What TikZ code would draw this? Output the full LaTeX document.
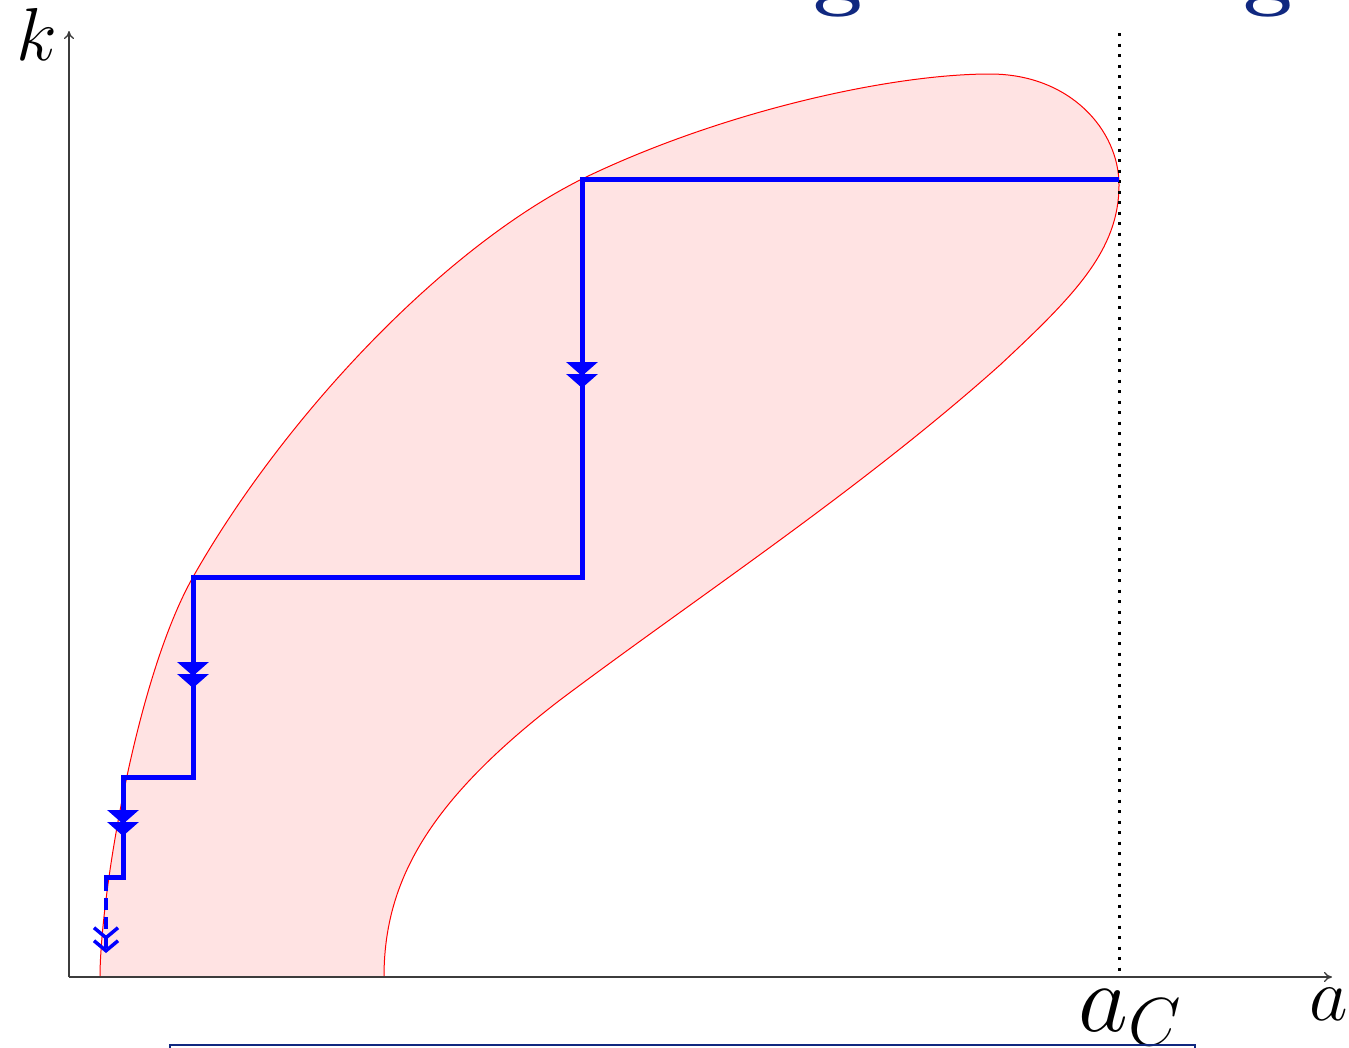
\documentclass[tikz,border=0pt]{standalone}
\usepackage{fix-cm}
\usepackage{fontspec}
\usetikzlibrary{arrows.meta}
\definecolor{navy}{RGB}{16,40,128}
\definecolor{axisgray}{RGB}{60,60,60}
\tikzset{
  axisline/.style={draw=axisgray,line width=1.3pt,-{To[length=8pt,width=10pt]}},
  region/.style={fill=red!11,draw=red,line width=1pt},
  stair/.style={draw=blue,line width=5pt,line join=miter},
  dtri/.style={-{Triangle[width=31pt,length=14pt,sep=-2pt]Triangle[width=31pt,length=14pt]}},
  dbarb/.style={-{Straight Barb[width=24pt,length=10pt,line width=3.5pt,sep=-1pt]Straight Barb[width=24pt,length=10pt,line width=3.5pt]}},
  lab/.style={inner sep=0pt,font=\fontsize{75}{75}\selectfont},
  titleg/.style={anchor=base,inner sep=0pt,text=navy,font=\fontsize{88}{88}\selectfont\bfseries},
}
\begin{document}
\begin{tikzpicture}[x=1pt,y=-1pt]
\useasboundingbox (0,0) rectangle (1349,1047);
\clip (0,0) rectangle (1349,1047);
% partial title glyphs at top
\node[titleg] (g1) at (838,-1) {g};
\node[titleg] (g2) at (1268,-1) {g};
% region
\path[region] (100,977)
  .. controls (100,900) and (135,680) .. (193,577)
  .. controls (282,420) and (440,250) .. (582,179)
  .. controls (720,112) and (890,74) .. (990,74)
  .. controls (1070,74) and (1119,130) .. (1119,185)
  .. controls (1119,250) and (1075,295) .. (1000,365)
  .. controls (860,490) and (700,595) .. (560,700)
  .. controls (430,800) and (384,880) .. (384,977)
  -- cycle;
% dotted line
\coordinate (dtop) at (1119,33);
\coordinate (dbot) at (1119,977);
\draw[black,line width=3pt,dash pattern=on 3pt off 7.5pt] (dtop) -- (dbot);
% axes
\coordinate (O) at (69,977);
\coordinate (ktip) at (69,31);
\coordinate (atip) at (1332,977);
\draw[axisline] (O) -- (ktip);
\draw[axisline] (O) -- (atip);
% staircase
\coordinate (s0) at (1119,179);
\coordinate (s1) at (582,179);
\coordinate (s2) at (582,577);
\coordinate (s3) at (193,577);
\coordinate (s4) at (193,777);
\coordinate (s5) at (123,777);
\coordinate (s6) at (123,877);
\coordinate (s7) at (106,877);
\coordinate (s8) at (106,953);
\draw[stair] (s0) -- (s1) -- (s2) -- (s3) -- (s4) -- (s5) -- (s6) -- (s7) -- ([yshift=2.5pt]s7);
\draw[blue,line width=4pt,dash pattern=on 12pt off 7pt,dbarb] ([yshift=-2pt]s7) -- (s8);
\coordinate (m1a) at (582,360);
\coordinate (m1b) at (582,388);
\coordinate (m2a) at (193,660);
\coordinate (m2b) at (193,688);
\coordinate (m3a) at (123,808);
\coordinate (m3b) at (123,836);
\draw[blue,line width=5pt,dtri] (m1a) -- (m1b);
\draw[blue,line width=5pt,dtri] (m2a) -- (m2b);
\draw[blue,line width=5pt,dtri] (m3a) -- (m3b);
% labels
\node[lab] (klab) at (37,34) {$k$};
\node[lab] (alab) at (1329,1004) {$a$};
\node[inner sep=0pt,font=\fontsize{97}{97}\selectfont,anchor=base west] (aclab) at (1078,1031) {$a_C$};
% bottom box
\draw[navy,line width=2pt] (170,1045) rectangle (1195,1070);
\end{tikzpicture}
\end{document}
